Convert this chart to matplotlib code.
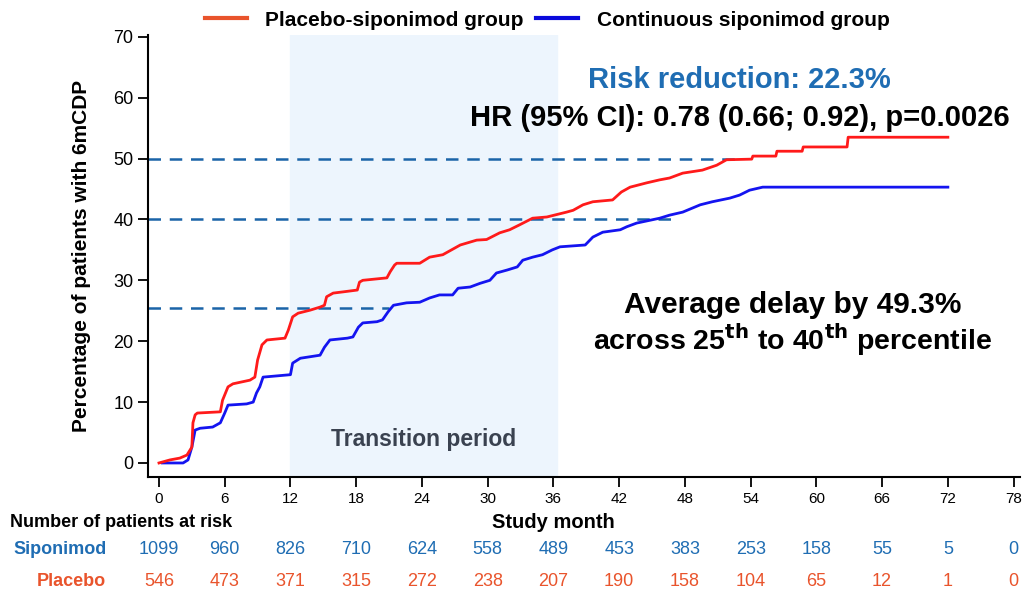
import matplotlib
matplotlib.use("Agg")
import matplotlib.pyplot as plt
import matplotlib.transforms as mtransforms
from matplotlib.lines import Line2D
import numpy as np

plt.rcParams['font.family'] = ['Liberation Sans', 'DejaVu Sans']

# Kaplan-Meier style curves (month, % with 6mCDP)
placebo_month = [0, 1.0, 1.9, 2.55, 3.0, 3.1, 3.3, 3.5, 5.6, 5.8, 6.3, 6.75, 8.3, 8.75, 9.0, 9.4,
                 9.85, 11.5, 11.8, 12.2, 12.7, 13.8, 14.7, 15.1, 15.3, 15.9, 16.8, 18.1, 18.3, 18.6,
                 20.8, 21.1, 21.5, 21.7, 23.8, 24.7, 25.9, 27.5, 29.0, 29.9, 31.1, 32.0, 32.9, 34.1,
                 35.4, 37.2, 37.8, 38.7, 39.6, 41.4, 42.2, 43.0, 44.5, 45.7, 46.6, 47.8, 49.6, 50.9,
                 51.8, 54.1, 54.2, 56.3, 56.4, 58.7, 58.8, 62.8, 62.9, 72.0]
placebo_pct = [0, 0.5, 0.8, 1.3, 2.6, 6.6, 7.9, 8.2, 8.4, 10.3, 12.5, 13.0, 13.6, 14.1, 16.9, 19.4,
               20.2, 20.5, 21.8, 24.0, 24.6, 25.1, 25.6, 25.9, 27.3, 27.9, 28.1, 28.4, 29.7, 30.0,
               30.4, 31.4, 32.5, 32.8, 32.8, 33.8, 34.2, 35.8, 36.6, 36.7, 37.8, 38.3, 39.1, 40.2,
               40.4, 41.2, 41.5, 42.4, 42.9, 43.2, 44.5, 45.3, 46.0, 46.5, 46.8, 47.6, 48.1, 48.9,
               49.8, 49.9, 50.4, 50.4, 51.2, 51.2, 51.9, 51.9, 53.5, 53.5]

siponimod_month = [0.3, 2.2, 2.65, 3.0, 3.3, 3.75, 4.9, 5.6, 6.0, 6.3, 8.0, 8.6, 8.9, 9.2, 9.5, 12.0,
                   12.2, 12.9, 14.7, 15.1, 15.6, 17.2, 17.7, 18.2, 18.6, 19.9, 20.4, 20.9, 21.4, 22.6,
                   23.8, 24.7, 25.6, 26.8, 27.3, 28.4, 29.3, 30.2, 30.8, 31.8, 32.7, 33.2, 34.1, 35.0,
                   35.9, 36.6, 38.9, 39.6, 40.5, 42.1, 42.7, 43.6, 45.7, 46.6, 47.8, 49.4, 50.5, 52.1,
                   53.0, 53.9, 55.1, 72.0]
siponimod_pct = [0, 0, 0.5, 2.6, 5.4, 5.7, 5.9, 6.6, 8.2, 9.5, 9.7, 10.0, 11.5, 12.5, 14.1, 14.5,
                 16.4, 17.2, 17.7, 19.0, 20.2, 20.5, 20.7, 22.3, 23.0, 23.2, 23.5, 24.8, 25.9, 26.3,
                 26.4, 27.1, 27.6, 27.6, 28.7, 28.9, 29.5, 30.0, 31.2, 31.7, 32.2, 33.3, 33.8, 34.2,
                 35.0, 35.5, 35.8, 37.1, 37.9, 38.3, 38.8, 39.4, 40.2, 40.7, 41.2, 42.4, 42.9, 43.5,
                 44.0, 44.8, 45.3, 45.3]

# percentile reference lines: (level, month where the dash stops)
ref_levels = [50, 40, 25.4]
ref_ends = [52.7, 47.3, 21.0]

transition = (12, 36.3)

risk_months = [0, 6, 12, 18, 24, 30, 36, 42, 48, 54, 60, 66, 72, 78]
risk_siponimod = [1099, 960, 826, 710, 624, 558, 489, 453, 383, 253, 158, 55, 5, 0]
risk_placebo = [546, 473, 371, 315, 272, 238, 207, 190, 158, 104, 65, 12, 1, 0]

red = '#FF1A1A'
blue = '#1414F0'
sip_col = '#1F6DB3'
pla_col = '#E9542C'

fig = plt.figure(figsize=(10.23, 5.92), dpi=100)
ax = fig.add_axes([0.1447, 0.1943, 0.852, 0.7467])

ax.axvspan(transition[0], transition[1], color='#EDF5FD', zorder=0)
ax.text(sum(transition) / 2, 3.8, 'Transition period', ha='center', va='center',
        fontsize=16.5, fontweight='bold', color='#3A4250')

for lev, end in zip(ref_levels, ref_ends):
    ax.plot([-1, end], [lev, lev], ls=(0, (5, 3.5)), color='#1B64A8', lw=1.8, zorder=1)

ax.plot(placebo_month, placebo_pct, color=red, lw=2, zorder=3)
ax.plot(siponimod_month, siponimod_pct, color=blue, lw=2, zorder=2)

ax.set_xlim(-1, 78.55)
ax.set_ylim(-2.3, 70.3)
ax.set_xticks(risk_months)
ax.set_yticks(range(0, 71, 10))
ax.spines['top'].set_visible(False)
ax.spines['right'].set_visible(False)
ax.spines['left'].set_linewidth(1.5)
ax.spines['bottom'].set_linewidth(1.5)
ax.tick_params(axis='both', direction='out', length=7, width=1.3)
ax.tick_params(axis='x', pad=4, labelsize=11)
ax.tick_params(axis='y', labelsize=13)
ax.set_ylabel('Percentage of patients with 6mCDP', fontsize=15, fontweight='bold', labelpad=16)

ax.text(53.0, 62.9, 'Risk reduction: 22.3%', ha='center', va='center', fontsize=21,
        fontweight='bold', color=sip_col)
ax.text(77.6, 56.6, 'HR (95% CI): 0.78 (0.66; 0.92), p=0.0026', ha='right', va='center',
        fontsize=21, fontweight='bold', color='black')
ax.text(57.8, 26.0, 'Average delay by 49.3%', ha='center', va='center', fontsize=21.5,
        fontweight='bold')
ax.text(57.8, 20.2, r'across 25$^{\mathbf{th}}$ to 40$^{\mathbf{th}}$ percentile', ha='center',
        va='center', fontsize=20.5, fontweight='bold')

handles = [Line2D([], [], color=pla_col, lw=3), Line2D([], [], color='#0A0ADC', lw=3)]
fig.legend(handles, ['Placebo-siponimod group', 'Continuous siponimod group'],
           loc='center', bbox_to_anchor=(0.535, 0.966), ncol=2, frameon=False,
           prop={'weight': 'bold', 'size': 15}, handlelength=2.0,
           columnspacing=0.6, handletextpad=0.9)

# number at risk table
tr = mtransforms.blended_transform_factory(ax.transData, fig.transFigure)
fig.text(0.01, 0.117, 'Number of patients at risk', fontsize=13, fontweight='bold', va='center')
ax.text(36, 0.117, 'Study month', transform=tr, ha='center', va='center', fontsize=14.5,
        fontweight='bold')
fig.text(0.013, 0.072, 'Siponimod', fontsize=13, fontweight='bold', color=sip_col, va='center')
fig.text(0.036, 0.017, 'Placebo', fontsize=13, fontweight='bold', color=pla_col, va='center')
for m, s, p in zip(risk_months, risk_siponimod, risk_placebo):
    ax.text(m, 0.072, str(s), transform=tr, ha='center', va='center', fontsize=13,
            color=sip_col)
    ax.text(m, 0.017, str(p), transform=tr, ha='center', va='center', fontsize=13,
            color=pla_col)

fig.savefig('out.png', dpi=100)
